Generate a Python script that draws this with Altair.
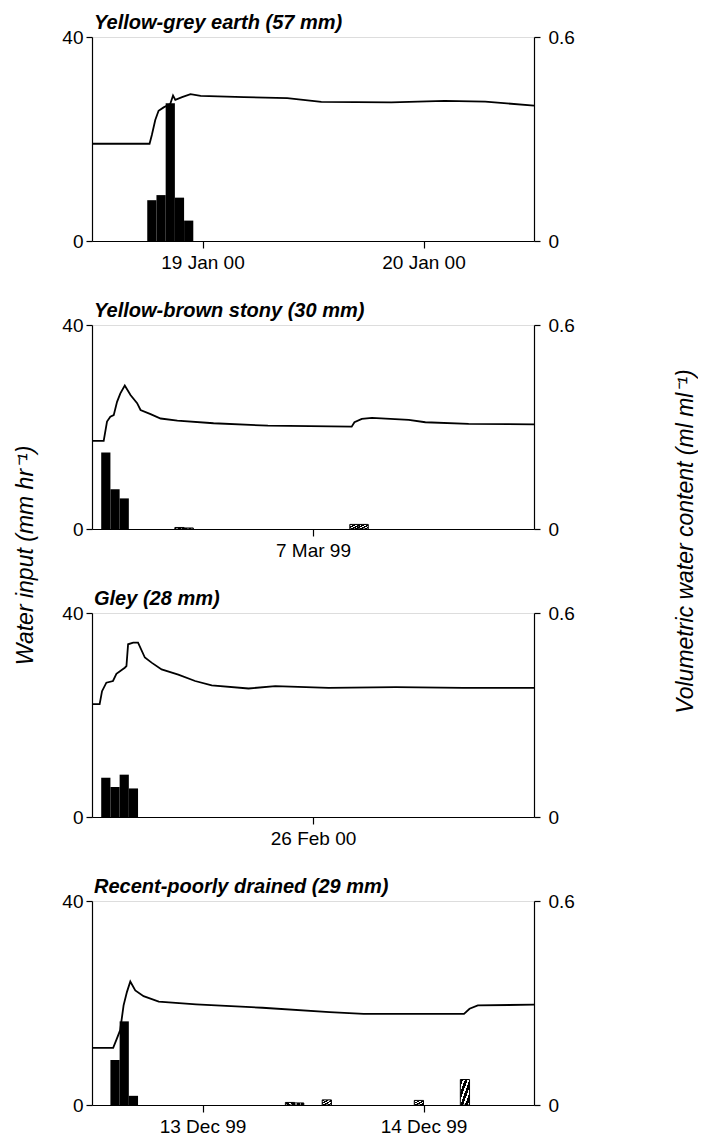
import altair as alt
import pandas as pd

# ---------------- data ----------------
TITLES = [
    "Yellow-grey earth (57 mm)",
    "Yellow-brown stony (30 mm)",
    "Gley (28 mm)",
    "Recent-poorly drained (29 mm)",
]
STARTS = ["2000-01-18T12:00:00", "1999-03-06T00:00:00", "2000-02-25T00:00:00", "1999-12-12T12:00:00"]
ENDS = ["2000-01-20T12:00:00", "1999-03-08T00:00:00", "2000-02-27T00:00:00", "1999-12-14T12:00:00"]
TICKS = [["2000-01-19", "2000-01-20"], ["1999-03-07"], ["2000-02-26"], ["1999-12-13", "1999-12-14"]]

# hourly water input bars (hour offset from panel start, mm/hr)
BAR_HOURS = [[6, 7, 8, 9, 10], [1, 2, 3], [1, 2, 3, 4], [2, 3, 4]]
BAR_VALUES = [[8, 9, 27, 8.5, 4], [15, 7.8, 6.0], [7.7, 5.9, 8.3, 5.6], [8.8, 16.4, 1.8]]
HATCH_HOURS = [[], [9, 10, 28, 29], [], [21, 22, 25, 35, 40]]
HATCH_VALUES = [[], [0.3, 0.2, 0.9, 0.9], [], [0.5, 0.4, 1.0, 0.9, 5.0]]

# volumetric water content (hour offset, ml/ml)
LINE_HOURS = [
    [0, 6.25, 6.5, 6.87, 7.23, 7.78, 8.5, 8.8, 9.05, 9.78, 10.7, 11.8, 16.5, 21.2, 24.9, 32.5, 38.3, 42.7, 48],
    [0, 1.27, 1.63, 1.99, 2.36, 2.72, 3.08, 3.56, 4.18, 4.9, 5.27, 6.36, 7.45, 9.27, 13.2, 19.1, 28.2, 28.5,
     29.3, 30.4, 34.4, 36.2, 40.9, 48],
    [0, 0.83, 1.09, 1.56, 2.28, 2.65, 3.56, 3.74, 3.92, 4.47, 5.0, 5.74, 6.47, 7.56, 9.37, 11.2, 13.0, 17.0,
     19.9, 25.7, 33.0, 40.3, 48],
    [0, 2.3, 2.7, 3.06, 3.43, 3.79, 4.16, 4.7, 5.6, 7.25, 11.3, 18.5, 25.8, 29.5, 40.4, 41.0, 41.9, 48],
]
LINE_VALUES = [
    [0.286, 0.286, 0.312, 0.356, 0.383, 0.393, 0.403, 0.428, 0.415, 0.423, 0.432, 0.427, 0.423, 0.420, 0.409,
     0.408, 0.412, 0.410, 0.398],
    [0.259, 0.259, 0.316, 0.330, 0.335, 0.374, 0.399, 0.422, 0.394, 0.370, 0.350, 0.338, 0.325, 0.319, 0.311,
     0.304, 0.301, 0.314, 0.324, 0.327, 0.321, 0.314, 0.309, 0.308],
    [0.332, 0.332, 0.370, 0.395, 0.400, 0.421, 0.439, 0.444, 0.508, 0.513, 0.513, 0.469, 0.454, 0.434, 0.419,
     0.400, 0.387, 0.378, 0.385, 0.380, 0.382, 0.380, 0.380],
    [0.168, 0.168, 0.195, 0.220, 0.293, 0.332, 0.363, 0.337, 0.320, 0.304, 0.296, 0.286, 0.273, 0.268, 0.268,
     0.283, 0.293, 0.295],
]

FONT = "Liberation Sans"
W, H = 442, 204


def ts(start, hours):
    return (pd.Timestamp(start) + pd.to_timedelta(hours, unit="h")).strftime("%Y-%m-%dT%H:%M:%S")


def dt(s):
    t = pd.Timestamp(s)
    return alt.DateTime(year=t.year, month=t.month, date=t.day, hours=t.hour)


hatch = alt.LinearGradient(
    gradient="linear", x1=0, y1=0, x2=1, y2=1,
    stops=sum([[alt.GradientStop(color="black", offset=i / 4),
                alt.GradientStop(color="black", offset=(i + 0.6) / 4),
                alt.GradientStop(color="white", offset=(i + 0.6) / 4),
                alt.GradientStop(color="white", offset=(i + 1) / 4)] for i in range(4)], []),
)

common_axis = dict(grid=False, labelFont=FONT, labelFontSize=19, domainColor="black", tickColor="black",
                   labelColor="black", domainWidth=1.2, tickWidth=1.2)


def panel(i):
    s = STARTS[i]
    xscale = alt.Scale(domain=[dt(STARTS[i]), dt(ENDS[i])])
    xaxis = alt.Axis(values=[dt(v) for v in TICKS[i]], format="%-d %b %y", title=None,
                     tickSize=7, labelPadding=5, labelFlush=False, **common_axis)
    first = i == 1
    title_style = dict(titleFont=FONT, titleFontSize=23, titleFontStyle="italic", titleFontWeight="normal",
                       titleColor="black", titleAngle=270, titleBaseline="bottom", titleAlign="center")
    yl_axis = alt.Axis(values=[0, 40], title="Water input (mm hr\u207b\u00b9)" if first else None,
                       tickSize=6, labelPadding=3, titleX=-55, titleY=230, **title_style, **common_axis)
    yr_axis = alt.Axis(values=[0, 0.6], format="~g", orient="right",
                       title="Volumetric water content (ml ml\u207b\u00b9)" if first else None,
                       tickSize=6, labelPadding=8, titleX=163, titleY=216, **title_style, **common_axis)

    bars = pd.DataFrame({
        "t0": [ts(s, h) for h in BAR_HOURS[i]],
        "t1": [ts(s, h + 1) for h in BAR_HOURS[i]],
        "v": BAR_VALUES[i],
    })
    hb = pd.DataFrame({
        "t0": [ts(s, h) for h in HATCH_HOURS[i]],
        "t1": [ts(s, h + 1) for h in HATCH_HOURS[i]],
        "v": HATCH_VALUES[i],
    })
    line = pd.DataFrame({"t": [ts(s, h) for h in LINE_HOURS[i]], "w": LINE_VALUES[i]})

    yscale = alt.Scale(domain=[0, 40], nice=False)
    bar_layer = alt.Chart(bars).mark_rect(color="black").encode(
        x=alt.X("t0:T", scale=xscale, axis=xaxis),
        x2="t1:T",
        y=alt.Y("v:Q", scale=yscale, axis=yl_axis),
        y2=alt.datum(0),
    )
    layers = [bar_layer]
    if len(hb):
        layers.append(alt.Chart(hb).mark_rect(fill=hatch, stroke="black", strokeWidth=1).encode(
            x="t0:T", x2="t1:T", y=alt.Y("v:Q", scale=yscale), y2=alt.datum(0)))
    left = alt.layer(*layers)
    right = alt.Chart(line).mark_line(color="black", strokeWidth=1.8).encode(
        x="t:T",
        y=alt.Y("w:Q", scale=alt.Scale(domain=[0, 0.6], nice=False), axis=yr_axis),
    )
    return alt.layer(left, right).resolve_scale(y="independent").properties(
        width=W, height=H,
        title=alt.TitleParams(TITLES[i], anchor="start", frame="group", dx=2, offset=-5,
                              font=FONT, fontSize=20, fontStyle="italic", fontWeight="bold", color="black"),
    )


chart = alt.vconcat(*[panel(i) for i in range(4)], spacing=84, bounds="flush").properties(
    padding={"left": 5, "top": 4, "right": 0, "bottom": 0}
).configure_view(stroke=None).configure(background="white")

chart.save("out.html", embed_options={"renderer": "svg", "actions": False})
